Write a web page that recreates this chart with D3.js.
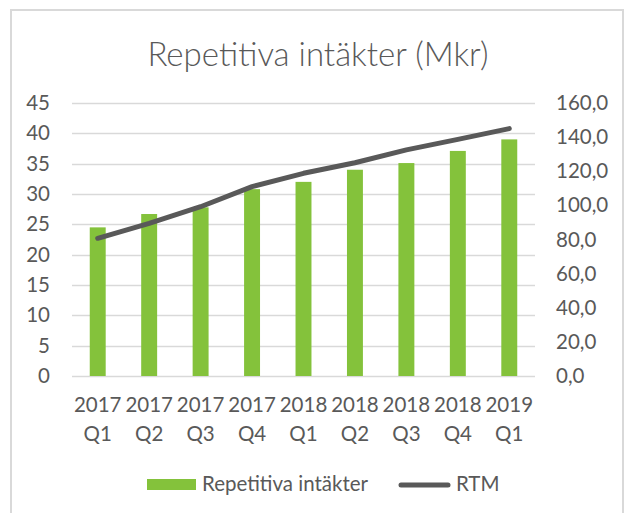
<!DOCTYPE html>
<html>
<head>
<meta charset="utf-8">
<script src="https://cdn.jsdelivr.net/npm/d3@7"></script>
<style>
  body { margin: 0; background: #fff; }
  svg { display: block; }
</style>
</head>
<body>
<svg></svg>
<script>
'use strict';

const svgWidth = 624;
const svgHeight = 513;

// data
const years = ['2017', '2017', '2017', '2017', '2018', '2018', '2018', '2018', '2019'];
const quarters = ['Q1', 'Q2', 'Q3', 'Q4', 'Q1', 'Q2', 'Q3', 'Q4', 'Q1'];
const repetitiva = [24.5, 26.7, 27.8, 30.8, 32.0, 34.0, 35.1, 37.1, 39.0];
const rtm = [80.7, 89.5, 99.2, 111.0, 118.8, 125.0, 132.5, 138.7, 145.0];
const leftTicks = [0, 5, 10, 15, 20, 25, 30, 35, 40, 45];
const rightTicks = [0, 20, 40, 60, 80, 100, 120, 140, 160];

const font = 'Lato, "Open Sans", sans-serif';
const textColor = '#595959';
const labelSize = 20.5;

const svg = d3.select('svg')
  .attr('width', svgWidth)
  .attr('height', svgHeight)
  .attr('font-family', font);

// chart frame
svg.append('rect')
  .attr('x', 11)
  .attr('y', 10)
  .attr('width', 612)
  .attr('height', 520)
  .attr('fill', 'none')
  .attr('stroke', '#d9d9d9')
  .attr('stroke-width', 2);

const margin = { left: 72, right: 89, top: 103, bottom: 137 };
const plotW = svgWidth - margin.left - margin.right;

const keys = d3.range(years.length);

const x = d3.scaleBand()
  .domain(keys)
  .range([margin.left, svgWidth - margin.right])
  .paddingInner(0.69)
  .paddingOuter(0.345);

const yLeft = d3.scaleLinear()
  .domain([0, 45])
  .range([svgHeight - margin.bottom, margin.top]);

const yRight = d3.scaleLinear()
  .domain([0, 160])
  .range([svgHeight - margin.bottom, margin.top]);

// title
svg.append('text')
  .attr('x', 318)
  .attr('y', 66)
  .attr('text-anchor', 'middle')
  .attr('font-size', 33)
  .attr('font-weight', 300)
  .attr('fill', textColor)
  .text('Repetitiva intäkter (Mkr)');

// gridlines
svg.append('g')
  .attr('stroke', '#d9d9d9')
  .attr('stroke-width', 1.3)
  .selectAll('line')
  .data(leftTicks)
  .join('line')
  .attr('x1', margin.left)
  .attr('x2', margin.left + plotW)
  .attr('y1', d => Math.round(yLeft(d)) + 0.5)
  .attr('y2', d => Math.round(yLeft(d)) + 0.5);

// left axis
const leftAxis = svg.append('g')
  .attr('transform', 'translate(50,0)')
  .call(d3.axisLeft(yLeft).tickValues(leftTicks).tickSize(0).tickPadding(0));
leftAxis.select('.domain').remove();
leftAxis.selectAll('text')
  .attr('font-family', font)
  .attr('font-size', labelSize)
  .attr('fill', textColor);

// right axis
const fmtRight = d => d3.format('.1f')(d).replace('.', ',');
const rightAxis = svg.append('g')
  .attr('transform', 'translate(556,0)')
  .call(d3.axisRight(yRight).tickValues(rightTicks).tickFormat(fmtRight).tickSize(0).tickPadding(0));
rightAxis.select('.domain').remove();
rightAxis.selectAll('text')
  .attr('font-family', font)
  .attr('font-size', labelSize)
  .attr('fill', textColor);

// bars
svg.append('g')
  .attr('fill', '#84c23b')
  .selectAll('rect')
  .data(repetitiva)
  .join('rect')
  .attr('x', (d, i) => x(i))
  .attr('width', x.bandwidth())
  .attr('y', d => yLeft(d))
  .attr('height', d => yLeft(0) - yLeft(d));

// RTM line
const line = d3.line()
  .x((d, i) => x(i) + x.bandwidth() / 2)
  .y(d => yRight(d));

svg.append('path')
  .datum(rtm)
  .attr('fill', 'none')
  .attr('stroke', '#595959')
  .attr('stroke-width', 5)
  .attr('stroke-linecap', 'round')
  .attr('stroke-linejoin', 'round')
  .attr('d', line);

// x labels, two rows
const xLabels = svg.append('g')
  .attr('font-size', labelSize)
  .attr('fill', textColor)
  .attr('text-anchor', 'middle');

xLabels.selectAll('text.yr')
  .data(keys)
  .join('text')
  .attr('class', 'yr')
  .attr('x', d => x(d) + x.bandwidth() / 2)
  .attr('y', 412)
  .text(d => years[d]);

xLabels.selectAll('text.q')
  .data(keys)
  .join('text')
  .attr('class', 'q')
  .attr('x', d => x(d) + x.bandwidth() / 2)
  .attr('y', 441)
  .text(d => quarters[d]);

// legend
const legend = svg.append('g')
  .attr('font-size', labelSize)
  .attr('fill', textColor);

legend.append('rect')
  .attr('x', 147)
  .attr('y', 479)
  .attr('width', 49)
  .attr('height', 11)
  .attr('fill', '#84c23b');

legend.append('text')
  .attr('x', 202)
  .attr('y', 491)
  .text('Repetitiva intäkter');

legend.append('line')
  .attr('x1', 401)
  .attr('x2', 448)
  .attr('y1', 485)
  .attr('y2', 485)
  .attr('stroke', '#595959')
  .attr('stroke-width', 5)
  .attr('stroke-linecap', 'round');

legend.append('text')
  .attr('x', 456)
  .attr('y', 491)
  .text('RTM');
</script>
</body>
</html>
